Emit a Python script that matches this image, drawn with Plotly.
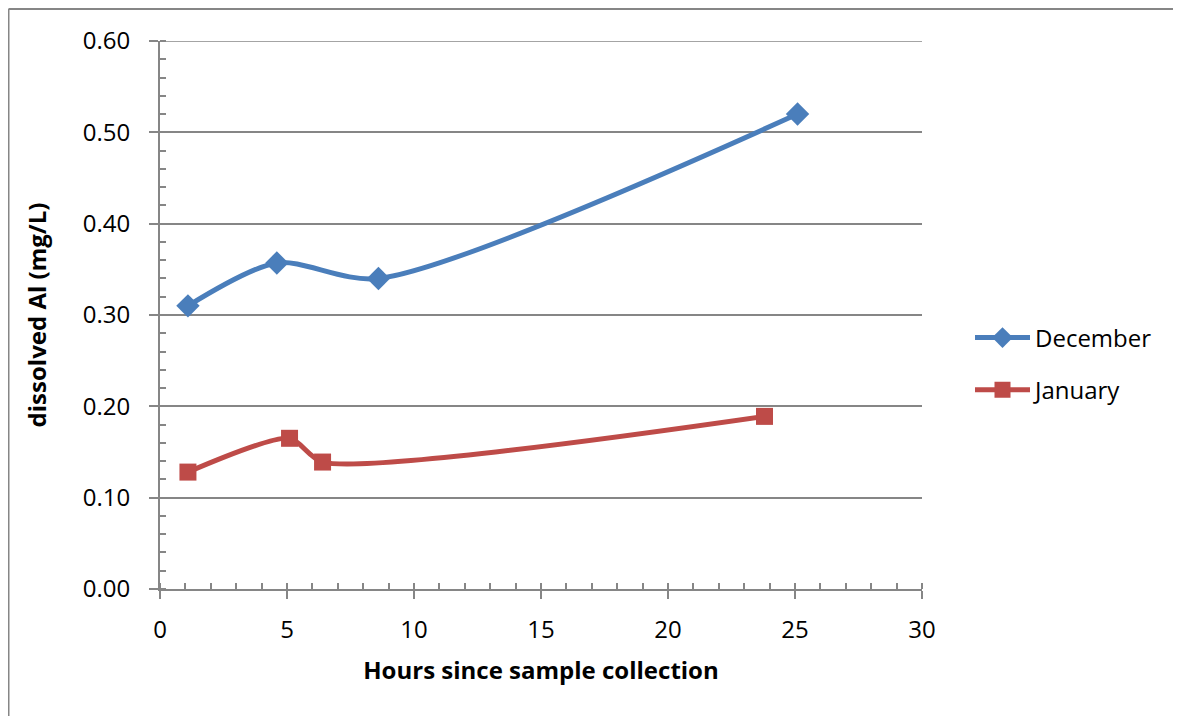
import plotly.graph_objects as go

# data
dec_hours = [1.1, 4.6, 8.6, 25.1]
dec_al = [0.310, 0.357, 0.340, 0.520]
jan_hours = [1.1, 5.1, 6.4, 23.8]
jan_al = [0.128, 0.165, 0.139, 0.189]

OFF = 8  # page body margin shifts the figure
W, H = 1181 - OFF, 716 - OFF
L, R, T, B = 160 - OFF, 922 - OFF, 41 - OFF, 589 - OFF  # plot area edges in figure pixels

fig = go.Figure()
fig.add_trace(go.Scatter(
    x=dec_hours, y=dec_al, name="December", mode="lines+markers", legendgroup="dec",
    line=dict(color="#4A7EBB", width=5, shape="spline", smoothing=0.8),
    marker=dict(symbol="diamond", size=18, color="#4A7EBB"),
))
fig.add_trace(go.Scatter(
    x=jan_hours, y=jan_al, name="January", mode="lines+markers", legendgroup="jan",
    line=dict(color="#BE4B48", width=5, shape="spline", smoothing=0.7),
    marker=dict(symbol="square", size=17, color="#BE4B48"),
))

font = "Open Sans, DejaVu Sans, sans-serif"
grey = "#868686"
fig.update_layout(
    width=W, height=H,
    margin=dict(l=L, r=W - R, t=T, b=H - B, autoexpand=False),
    plot_bgcolor="white", paper_bgcolor="white",
    font=dict(family=font, size=24, color="black"),
    showlegend=True,
    legend=dict(x=(970 - 160) / 762, y=(589 - 364) / 548, xanchor="left", yanchor="middle",
                font=dict(size=24), itemwidth=55, traceorder="grouped", tracegroupgap=18,
                bgcolor="rgba(0,0,0,0)"),
    xaxis=dict(
        range=[0, 30], dtick=5, showgrid=False, zeroline=False,
        showline=True, linecolor=grey, linewidth=2,
        ticks="outside", ticklen=8, tickwidth=2, tickcolor=grey, ticklabelstandoff=10,
        minor=dict(dtick=1, ticks="inside", ticklen=6, tickwidth=1.5, tickcolor=grey),
        title=dict(text="<b>Hours since sample collection</b>", font=dict(size=24), standoff=18),
    ),
    yaxis=dict(
        range=[0, 0.6], dtick=0.1, tickformat=".2f", zeroline=False,
        showgrid=True, gridcolor=grey, gridwidth=1.5,
        showline=True, linecolor=grey, linewidth=2,
        ticks="outside", ticklen=9, tickwidth=2, tickcolor=grey, ticklabelstandoff=14,
        minor=dict(dtick=0.02, ticks="inside", ticklen=6, tickwidth=1.5, tickcolor=grey),
        title=dict(text="<b>dissolved Al (mg/L)</b>", font=dict(size=24), standoff=29),
    ),
)

# top gridline at 0.60 (plotly skips the gridline at the range edge)
fig.add_shape(type="line", xref="paper", yref="y", x0=-9 / 762, x1=1, y0=0.6, y1=0.6,
              line=dict(color=grey, width=1.5))

# outer chart border: only the top and left edges fall inside the picture
bx0 = -L / (R - L) + 0.5 / (R - L)
by1 = (B - 1) / (B - T)
fig.add_shape(type="line", xref="paper", yref="paper", x0=bx0, x1=2, y0=by1, y1=by1,
              line=dict(color=grey, width=2), layer="below")
fig.add_shape(type="line", xref="paper", yref="paper", x0=bx0, x1=bx0, y0=-1, y1=by1,
              line=dict(color=grey, width=2), layer="below")

fig.write_html("out.html")
